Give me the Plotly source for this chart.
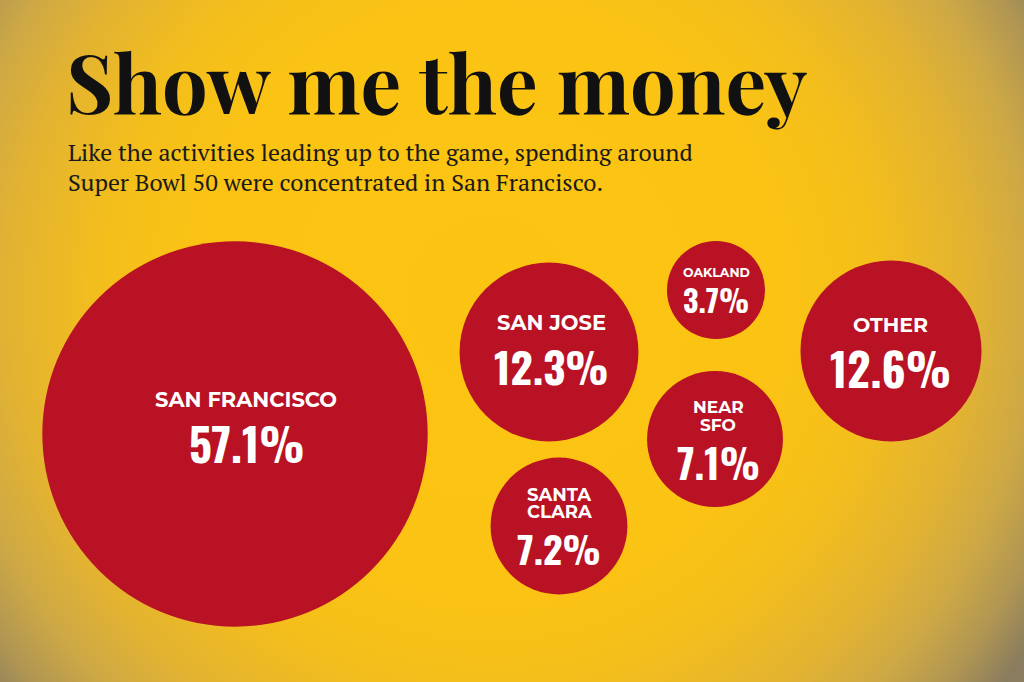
import base64
import plotly.graph_objects as go

# ---- data ----
regions = ["SAN FRANCISCO", "SAN JOSE", "OAKLAND", "OTHER", "NEAR SFO", "SANTA CLARA"]
label_lines = [["SAN FRANCISCO"], ["SAN JOSE"], ["OAKLAND"], ["OTHER"], ["NEAR", "SFO"], ["SANTA", "CLARA"]]
shares = [57.1, 12.3, 3.7, 12.6, 7.1, 7.2]

# ---- layout (pixel positions on the 1024x682 canvas) ----
cx = [235, 549, 716, 891, 715, 559]
cy = [434, 352, 290, 351, 439, 526]
text_x = [246, 551, 716, 890.5, 718, 559]
label_y = [[399.5], [322.5], [272], [324], [406.5, 424.5], [494.5, 512]]
label_size = [21, 21, 12.5, 20.5, 17, 18]
pct_y = [442, 365, 299.5, 367, 462, 548]
pct_size = [45, 43, 30, 45, 40, 38]

RED = "#B81224"
W, H = 1024, 682
PX_PER_SQRT = 25.5  # circle radius in px per sqrt(percent)

svg = f'''<svg xmlns="http://www.w3.org/2000/svg" width="{W}" height="{H}" viewBox="0 0 {W} {H}" preserveAspectRatio="none">
<defs><radialGradient id="g" gradientUnits="userSpaceOnUse" cx="490" cy="300" r="640" fx="490" fy="300">
<stop offset="0" stop-color="#FCC412"/>
<stop offset="0.45" stop-color="#FBC313"/>
<stop offset="0.6" stop-color="#F4BF1B"/>
<stop offset="0.75" stop-color="#E3B331"/>
<stop offset="0.85" stop-color="#CDA845"/>
<stop offset="0.93" stop-color="#B09653"/>
<stop offset="1" stop-color="#8A7C5E"/>
</radialGradient></defs>
<rect width="{W}" height="{H}" fill="url(#g)"/></svg>'''
bg_src = "data:image/svg+xml;base64," + base64.b64encode(svg.encode()).decode()

fig = go.Figure()
fig.add_trace(go.Scatter(
    x=cx, y=cy, mode="markers",
    marker=dict(size=shares, sizemode="area", sizeref=1 / (2 * PX_PER_SQRT ** 2),
                color=RED, line=dict(width=0), opacity=1),
    hoverinfo="text", text=[f"{r}: {s}%" for r, s in zip(regions, shares)],
    showlegend=False,
))

for lines, ys, ls, x, py, ps, s in zip(label_lines, label_y, label_size, text_x, pct_y, pct_size, shares):
    for line, y in zip(lines, ys):
        fig.add_annotation(x=x, y=y, text=line, showarrow=False, xanchor="center", yanchor="middle",
                           font=dict(family="Montserrat", size=ls, color="white", weight=700))
    fig.add_annotation(x=x, y=py, text=f"{s}%", showarrow=False, xanchor="center", yanchor="middle",
                       font=dict(family="Oswald", size=ps, color="white", weight=700))

fig.add_annotation(x=64, y=80, text="Show me the money", showarrow=False, xanchor="left", yanchor="middle",
                   font=dict(family="Playfair Display", size=81, color="#111111", weight=700))
fig.add_annotation(x=66, y=152, text="Like the activities leading up to the game, spending around",
                   showarrow=False, xanchor="left", yanchor="middle",
                   font=dict(family="PT Serif", size=23.8, color="#1a1a1a"))
fig.add_annotation(x=66, y=182, text="Super Bowl 50 were concentrated in San Francisco.",
                   showarrow=False, xanchor="left", yanchor="middle",
                   font=dict(family="PT Serif", size=23.8, color="#1a1a1a"))

fig.add_layout_image(dict(source=bg_src, xref="paper", yref="paper", x=0, y=1, sizex=1, sizey=1,
                          sizing="stretch", xanchor="left", yanchor="top", layer="below"))

fig.update_layout(
    width=W, height=H, margin=dict(l=0, r=0, t=0, b=0),
    paper_bgcolor="#FBC313", plot_bgcolor="rgba(0,0,0,0)",
    xaxis=dict(range=[0, W], visible=False, fixedrange=True),
    yaxis=dict(range=[H, 0], visible=False, fixedrange=True),
)
fig.write_html("out.html", config={"displayModeBar": False},
               post_script="document.body.style.margin='0';document.body.style.overflow='hidden';")
